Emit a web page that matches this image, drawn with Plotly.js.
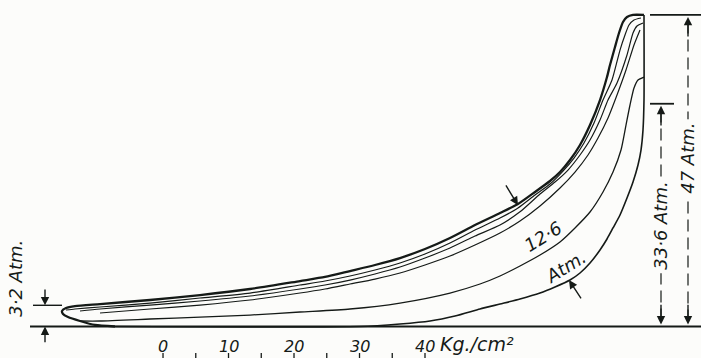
<!DOCTYPE html>
<html><head><meta charset="utf-8">
<script src="https://cdn.plot.ly/plotly-3.0.1.min.js"></script>
<style>html,body{margin:0;padding:0;background:#fcfcfa;}#plot{width:701px;height:358px;}</style>
</head><body><div id="plot"></div>
<script>
// x: position along the stroke (diagram units), y: pressure above atmosphere (Atm.)
// Expansion lines (outer bundle)
const a1X = [644,633,627,623,619,615,610,607,600,590,580,570,560,550,535,518,500,475,450,425,400,375,350,325,300,250,200,150,100,75,66,62,63,68,80,95,115];
const a1Y = [47.0,47.0,46.68,45.93,44.27,42.16,39.44,37.63,34.16,30.39,27.38,25.11,23.30,21.95,20.29,18.48,17.12,15.31,13.35,11.69,10.33,9.28,8.37,7.47,6.86,5.66,4.75,4.00,3.39,3.09,2.79,2.34,1.89,1.43,0.83,0.23,0];
const a2X = [641,634,629,625,620,612,603,594,584,574,563,550,535,518,500,475,450,425,400,375,350,325,300,250,200,150,100,75,66];
const a2Y = [46.53,46.23,45.48,43.97,41.70,37.18,34.16,30.69,27.68,25.41,23.45,21.49,19.83,17.87,16.36,14.55,12.59,10.93,9.58,8.52,7.62,6.86,6.26,5.05,4.30,3.54,2.94,2.64,2.49];
const a3X = [643,637,633,627,617,608,600,590,580,568,555,540,520,500,475,450,425,400,375,350,325,300,250,200,150,100,80];
const a3Y = [45.78,45.32,44.27,40.95,36.73,34.16,31.15,28.13,25.87,23.60,21.79,19.98,17.3,15.31,13.65,11.84,10.33,8.97,7.92,7.01,6.26,5.66,4.60,3.85,3.24,2.64,2.34];
const bX = [640,634,626,617,608,598,588,575,560,540,520,500,475,450,425,400,375,350,325,300,250,200,150,100];
const bY = [44.72,42.46,38.69,34.92,31.45,28.43,25.87,23.30,20.89,18.18,15.91,14.10,12.29,10.63,9.28,8.07,7.16,6.41,5.66,5.05,4.00,3.24,2.64,2.04];
// Lower-peak diagram
const cX = [644,638,634,630,626,621,613,603,590,575,560,540,520,500,480,450,400,350,300,250,200,150,100,80];
const cY = [37.63,37.18,35.97,33.41,30.39,26.62,23.30,20.29,17.27,14.86,12.75,10.78,9.13,7.62,6.41,5.05,3.54,2.64,2.19,1.73,1.43,1.13,0.83,0.83];
// Compression line and combustion
const eX = [115,360,400,430,455,480,500,520,540,555,570,580,590,600,607,613,620,627,633,638,641,643,644,644];
const eY = [0,0,0.38,0.83,1.58,2.64,3.39,4.15,5.05,5.96,7.01,8.07,9.58,11.54,13.20,14.86,16.82,19.38,21.79,24.36,26.62,29.64,34.16,47.0];
// Atmospheric line
const baseX = [30,701];
const baseY = [0,0];
// Pressure scale (Kg./cm2)
const scaleVals = [0,10,20,30,40];
const scaleTicks = [0,5,10,15,20,25,30,35,40];
const scaleUnit = 'Kg./cm²';
// Marked pressures (Atm.)
const pMax = 47, pComp = 33.6, pLow = 3.2, pDiff = 12.6;

const ink = '#151a17';
const bg = '#fcfcfa';
const line = (x,y,w)=>({x:x,y:y,type:'scatter',mode:'lines',line:{color:ink,width:w,shape:'spline',smoothing:0.6},hoverinfo:'skip',showlegend:false});
const traces = [
  line(baseX,baseY,2),
  line(eX,eY,1.6),
  line(cX,cY,1.3),
  line(bX,bY,1.2),
  line(a3X,a3Y,1.2),
  line(a2X,a2Y,1.2),
  line(a1X,a1Y,2.3)
];
// scale tick marks on the pressure-scale axis
const tx=[],ty=[];
scaleTicks.forEach(v=>{tx.push(v,v,null);ty.push(-4.0,-4.9,null);});
traces.push({x:tx,y:ty,xaxis:'x2',yaxis:'y',type:'scatter',mode:'lines',line:{color:ink,width:1.3},hoverinfo:'skip',showlegend:false});

const F = {family:'DejaVu Sans, sans-serif',size:17,color:ink,style:'italic'};
const Fs = s=>Object.assign({},F,{size:s});
const ann = [];
scaleVals.forEach(v=>ann.push({xref:'x2',yref:'y',x:v,y:-3.0,text:String(v),showarrow:false,font:Fs(16)}));
ann.push({xref:'x2',yref:'y',x:42.0,y:-2.6,xanchor:'left',text:scaleUnit,showarrow:false,font:Fs(19)});
// labels
ann.push({xref:'x',yref:'y',x:688,y:25.3,text:pMax+' Atm.',textangle:-90,showarrow:false,font:Fs(18),bgcolor:bg,borderpad:3});
ann.push({xref:'x',yref:'y',x:661,y:15.2,text:'33·6 Atm.',textangle:-90,showarrow:false,font:Fs(18),bgcolor:bg,borderpad:3});
ann.push({xref:'x',yref:'y',x:16,y:7.2,text:'3·2 Atm.',textangle:-90,showarrow:false,font:Fs(18)});
ann.push({xref:'x',yref:'y',x:543,y:13.6,text:'12·6',textangle:-32,showarrow:false,font:Fs(18)});
ann.push({xref:'x',yref:'y',x:566,y:9.0,text:'Atm.',textangle:-32,showarrow:false,font:Fs(18)});
// arrows
const arr=(x,y,ax,ay)=>({xref:'x',yref:'y',axref:'x',ayref:'y',x:x,y:y,ax:ax,ay:ay,text:'',showarrow:true,arrowhead:2,arrowsize:1.2,arrowwidth:1.4,arrowcolor:ink,standoff:0});
ann.push(arr(688,pMax-0.3,688,pMax-3.5));
ann.push(arr(688,0.3,688,3.5));
ann.push(arr(661,pComp-0.3,661,pComp-3.5));
ann.push(arr(661,0.3,661,3.5));
ann.push(arr(45,pLow,45,pLow+2.6));
ann.push(arr(45,0,45,-2.6));
ann.push(arr(518,18.3,505,21.5));
ann.push(arr(569,7.0,582,4.0));

const sh = [];
const seg=(x0,y0,x1,y1,w,d)=>({type:'line',xref:'x',yref:'y',x0:x0,y0:y0,x1:x1,y1:y1,line:{color:ink,width:w,dash:d||'solid'}});
sh.push(seg(650,pMax,701,pMax,1.8));
sh.push(seg(650,pComp,674,pComp,1.8));
sh.push(seg(33,pLow,62,pLow,1.4));
sh.push(seg(688,pMax-1,688,1,1.2,'12px,6px'));
sh.push(seg(661,pComp-1,661,1,1.2,'12px,6px'));

Plotly.newPlot('plot',traces,{
  width:701,height:358,margin:{l:0,r:0,t:0,b:0},
  paper_bgcolor:bg,plot_bgcolor:bg,
  xaxis:{range:[0,701],visible:false,fixedrange:true},
  xaxis2:{range:[-24.89,82.14],overlaying:'x',visible:false,fixedrange:true},
  yaxis:{range:[-4.75,49.25],visible:false,fixedrange:true},
  annotations:ann,shapes:sh
},{staticPlot:true});
</script></body></html>
